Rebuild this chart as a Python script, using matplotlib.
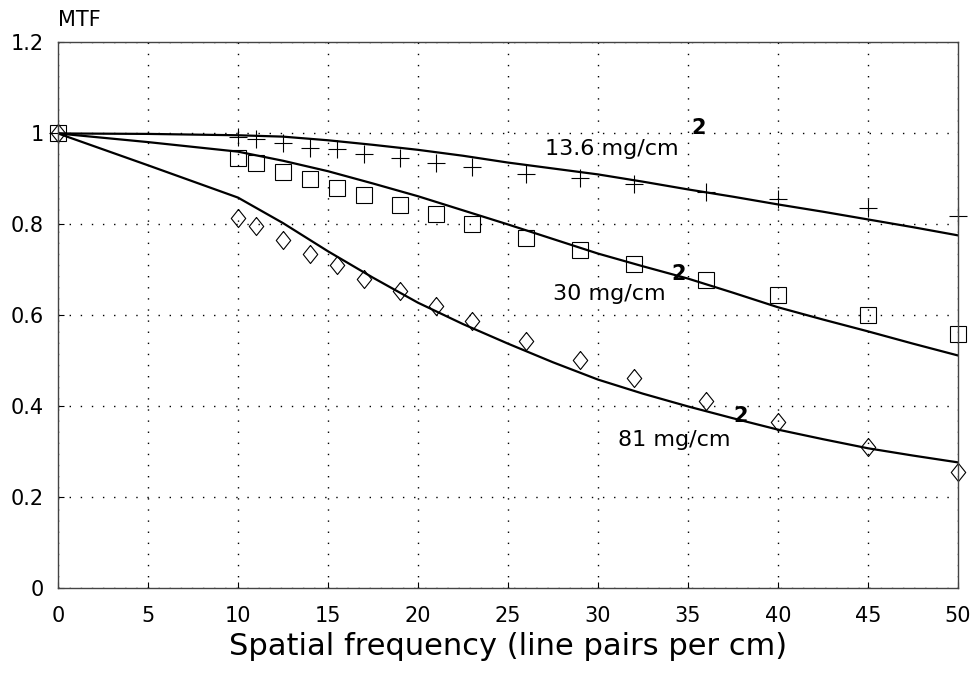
import matplotlib.pyplot as plt

plt.rcParams['font.family'] = ['DejaVu Sans']

# measured points
f_pts = [0, 10, 11, 12.5, 14, 15.5, 17, 19, 21, 23, 26, 29, 32, 36, 40, 45, 50]
m136 = [1.0, 0.992, 0.987, 0.978, 0.969, 0.965, 0.954, 0.945, 0.936, 0.927, 0.910, 0.901, 0.888, 0.872, 0.855, 0.837, 0.818]
m30 = [1.0, 0.947, 0.934, 0.916, 0.899, 0.881, 0.864, 0.842, 0.822, 0.800, 0.771, 0.743, 0.714, 0.677, 0.644, 0.602, 0.560]
m81 = [1.0, 0.815, 0.796, 0.765, 0.736, 0.710, 0.681, 0.653, 0.620, 0.587, 0.543, 0.501, 0.462, 0.411, 0.365, 0.310, 0.255]

# model curves
f_fit = [0, 5, 10, 12.5, 15, 17.5, 20, 22.5, 25, 27.5, 30, 32.5, 35, 37.5, 40, 42.5, 45, 47.5, 50]
fit136 = [1.0, 0.999, 0.996, 0.993, 0.985, 0.975, 0.964, 0.951, 0.936, 0.923, 0.910, 0.894, 0.877, 0.861, 0.844, 0.828, 0.811, 0.794, 0.776]
fit30 = [1.0, 0.981, 0.960, 0.940, 0.917, 0.890, 0.862, 0.831, 0.800, 0.768, 0.736, 0.708, 0.681, 0.650, 0.618, 0.591, 0.565, 0.538, 0.512]
fit81 = [1.0, 0.930, 0.859, 0.803, 0.741, 0.683, 0.628, 0.581, 0.538, 0.497, 0.459, 0.428, 0.400, 0.374, 0.349, 0.328, 0.308, 0.292, 0.277]

xticks = [0, 5, 10, 15, 20, 25, 30, 35, 40, 45, 50]
yticks = [0, 0.2, 0.4, 0.6, 0.8, 1.0, 1.2]
ytick_labels = ['0', '0.2', '0.4', '0.6', '0.8', '1', '1.2']

fig = plt.figure(figsize=(9.75, 6.74), dpi=100)
ax = fig.add_axes([0.0595, 0.127, 0.923, 0.810])

diamond = [(0, 1), (0.8, 0), (0, -1), (-0.8, 0), (0, 1)]

ax.plot(f_fit, fit136, color='black', lw=1.6)
ax.plot(f_fit, fit30, color='black', lw=1.6)
ax.plot(f_fit, fit81, color='black', lw=1.6)
ax.plot(f_pts, m136, ls='none', marker='+', ms=13, mew=0.8, color='black', clip_on=False)
ax.plot(f_pts, m30, ls='none', marker='s', ms=11, mew=0.8, mfc='none', mec='black', clip_on=False)
ax.plot(f_pts, m81, ls='none', marker=diamond, ms=13, mew=0.8, mfc='none', mec='black', clip_on=False)

ax.text(27.06, 0.952, '13.6 mg/cm', fontsize=16)
ax.text(35.6, 1.011, '2', fontsize=15, fontweight='bold', ha='center', va='center')
ax.text(27.5, 0.633, '30 mg/cm', fontsize=16)
ax.text(34.5, 0.692, '2', fontsize=15, fontweight='bold', ha='center', va='center')
ax.text(31.1, 0.314, '81 mg/cm', fontsize=16)
ax.text(37.9, 0.378, '2', fontsize=15, fontweight='bold', ha='center', va='center')

ax.set_xlim(0, 50)
ax.set_ylim(0, 1.2)
ax.set_xticks(xticks)
ax.set_yticks(yticks)
ax.set_yticklabels(ytick_labels)
ax.tick_params(direction='in', length=4, labelsize=15)
ax.tick_params(axis='x', pad=13)
ax.tick_params(axis='y', pad=10)
ax.grid(True, color='black', lw=1.0, linestyle=(0, (1, 7)))
for s in ax.spines.values():
    s.set_color('#444444')
    s.set_linewidth(1.0)

ax.set_xlabel('Spatial frequency (line pairs per cm)', fontsize=22, labelpad=4)
fig.text(0.0595, 0.962, 'MTF', fontsize=15)

fig.savefig('out.png', dpi=100)
